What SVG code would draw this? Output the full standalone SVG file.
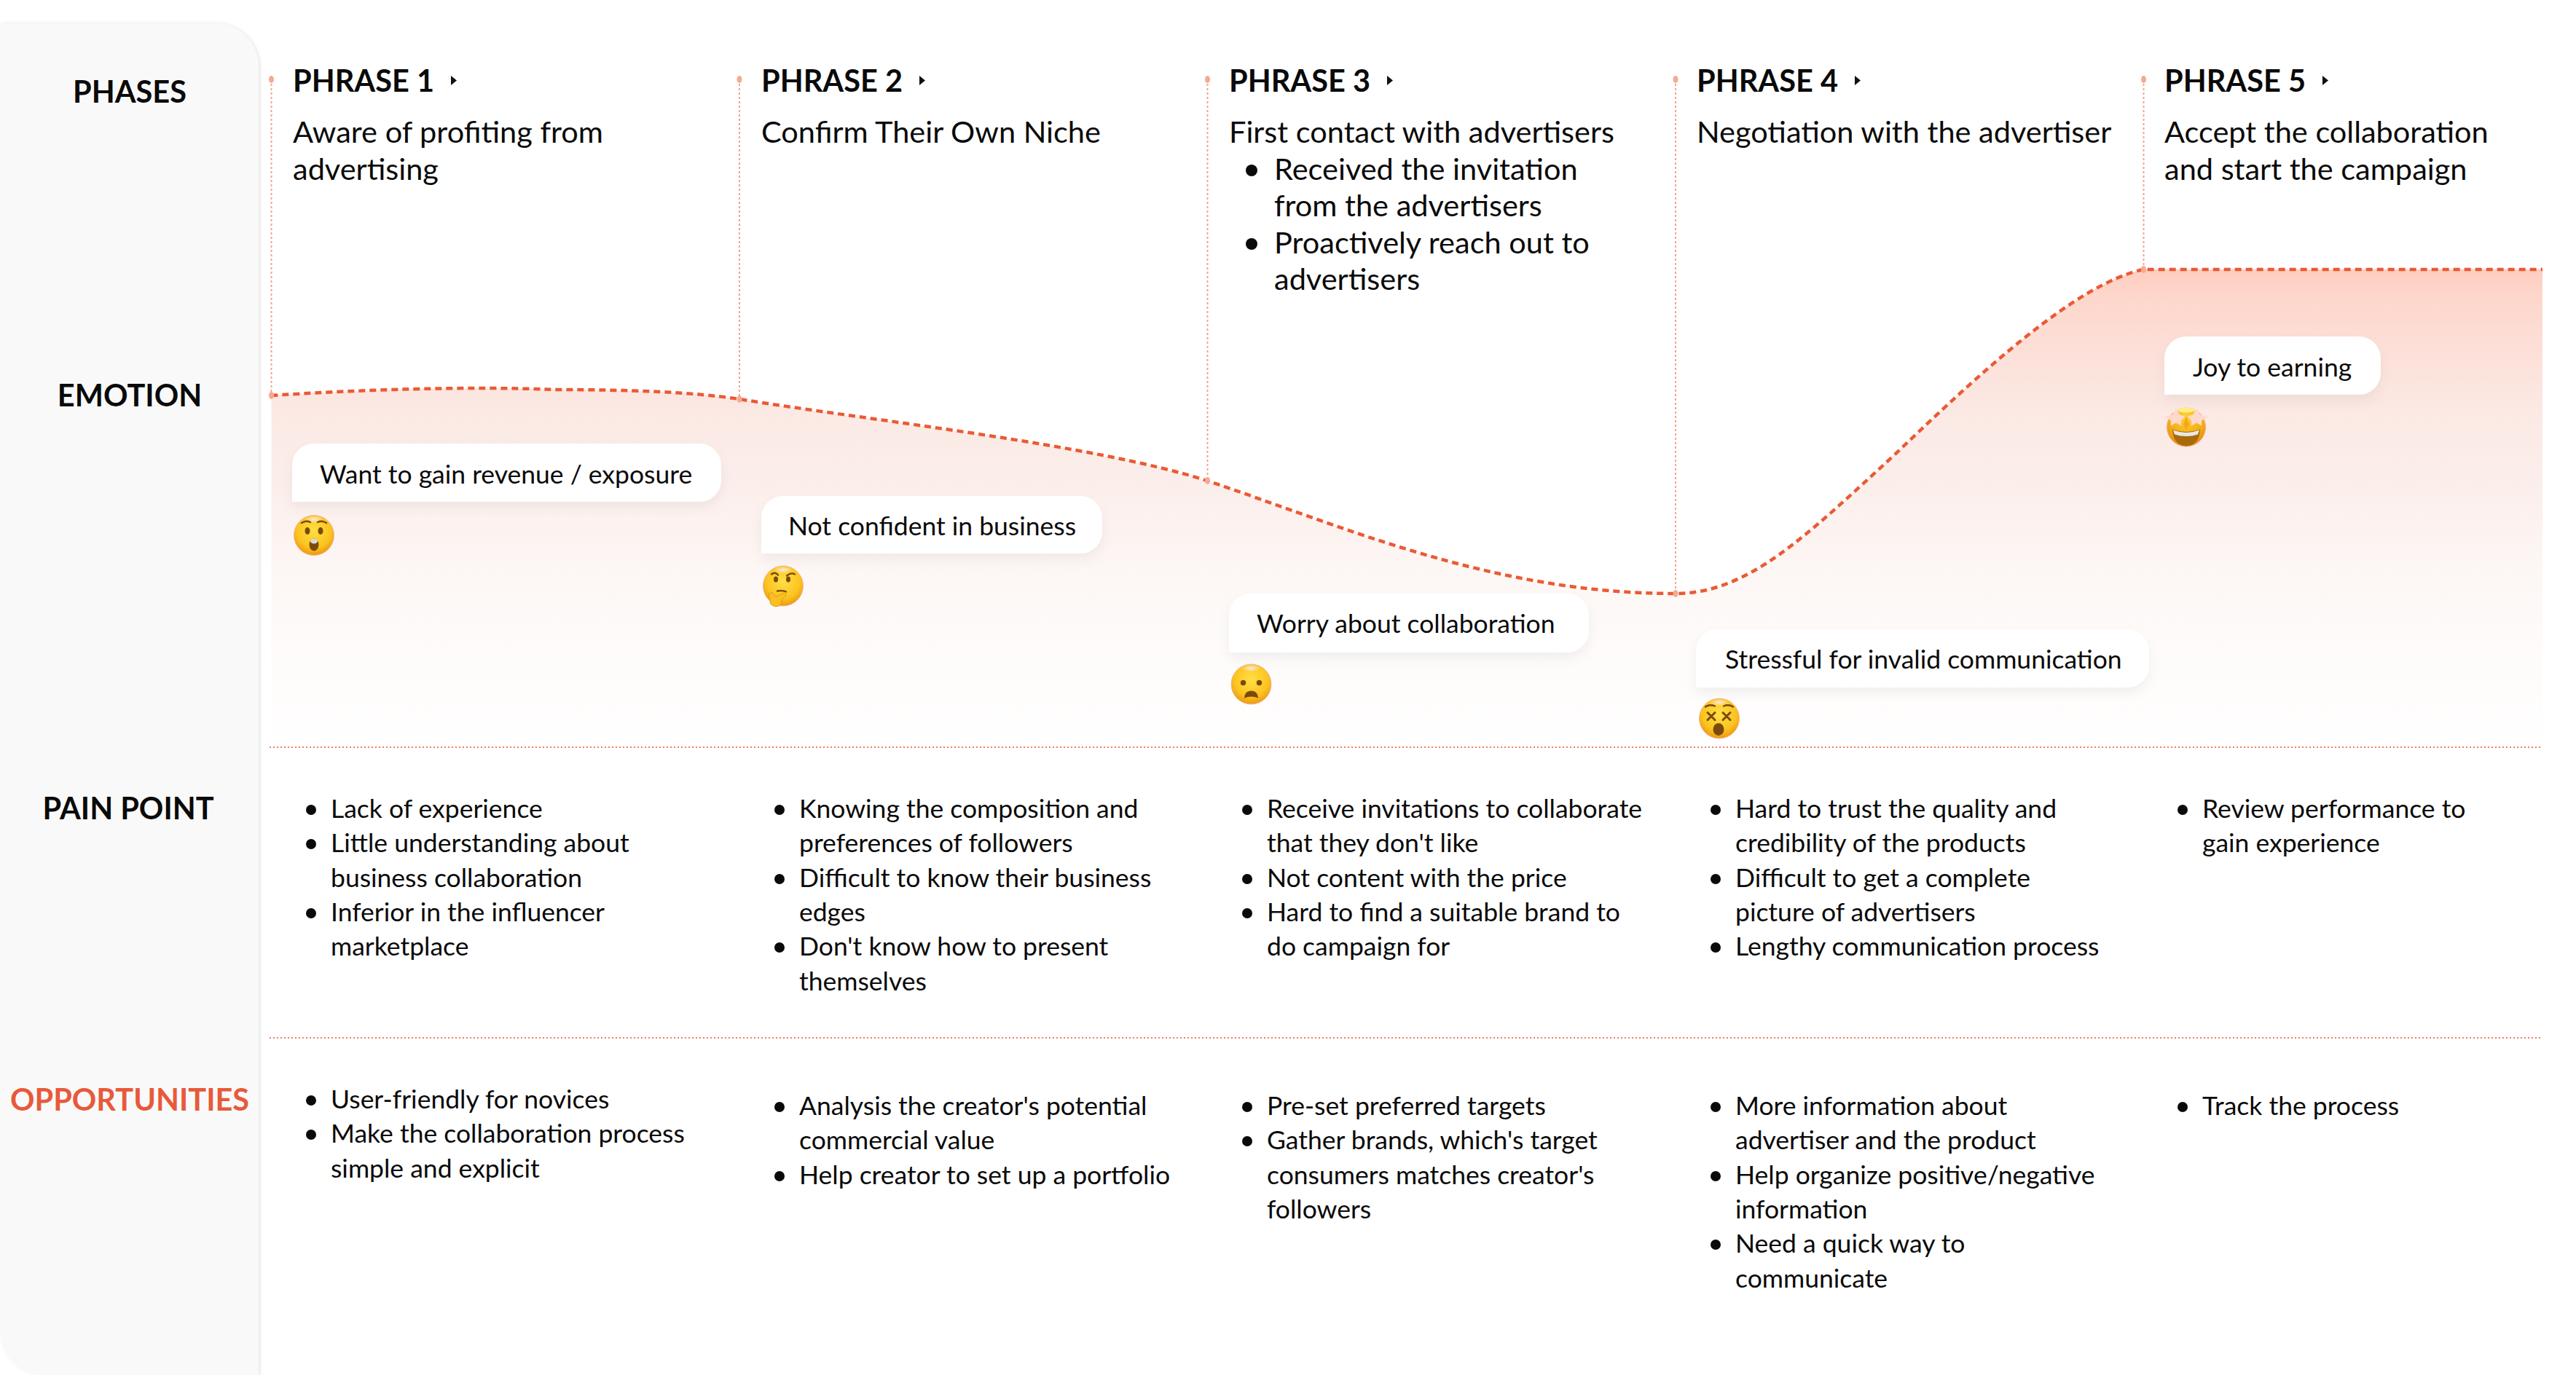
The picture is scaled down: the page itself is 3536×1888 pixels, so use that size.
<svg xmlns="http://www.w3.org/2000/svg" width="3536" height="1888" viewBox="0 0 3536 1888">
<style>
text{font-family:"Lato","Carlito","Liberation Sans",sans-serif;fill:#0a0a0a}
.lab{font-size:41.500px;font-weight:700;text-anchor:middle}
.ttl{font-size:41.500px;font-weight:700}
.des{font-size:41.500px}
.bod{font-size:35.500px}
.bub{fill:#fff;filter:url(#sh)}
.v{fill:none;stroke:#F4A48E;stroke-width:2;stroke-dasharray:3 3}
.h{fill:none;stroke:#EE7E60;stroke-width:2;stroke-dasharray:2 3}
.dot{fill:#F6A992}
.tri{fill:#111}
.bl{fill:#0a0a0a}
.face{fill:url(#fg);stroke:#F6B59A;stroke-width:1}
.hi{fill:url(#hg)}
.fe{fill:#7A4A0C}
.fs{fill:none;stroke:#7A4A0C;stroke-width:2.400;stroke-linecap:round}
</style>
<defs>
<linearGradient id="ag" gradientUnits="userSpaceOnUse" x1="0" y1="370" x2="0" y2="1026">
<stop offset="0" stop-color="#FFCDBF"/>
<stop offset=".05" stop-color="#FED6CB"/>
<stop offset=".2" stop-color="#FCE2DB"/>
<stop offset=".3" stop-color="#FBE9E4"/>
<stop offset=".44" stop-color="#FBEEEA"/>
<stop offset=".66" stop-color="#FDF8F6"/>
<stop offset="1" stop-color="#FFFFFF"/>
</linearGradient>
<radialGradient id="fg" cx=".5" cy=".38" r=".65">
<stop offset="0" stop-color="#FFDF45"/>
<stop offset=".65" stop-color="#FBC420"/>
<stop offset="1" stop-color="#E9920C"/>
</radialGradient>
<radialGradient id="sg" cx=".5" cy=".25" r=".8">
<stop offset="0" stop-color="#FFD23A"/>
<stop offset=".6" stop-color="#F2AC14"/>
<stop offset="1" stop-color="#DE860C"/>
</radialGradient>
<radialGradient id="hg">
<stop offset="0" stop-color="#FFE9E4"/>
<stop offset="1" stop-color="#FFE9E4" stop-opacity="0"/>
</radialGradient>
<filter id="sh" x="-10%" y="-20%" width="120%" height="160%">
<feDropShadow dx="0" dy="8" stdDeviation="8" flood-color="#000" flood-opacity=".05"/>
</filter>
<filter id="psh" x="-5%" y="-5%" width="110%" height="110%">
<feDropShadow dx="2" dy="0" stdDeviation="2" flood-color="#000" flood-opacity=".1"/>
</filter>
</defs>
<rect width="3536" height="1888" fill="#fff"/>
<path id="panel" d="M0 32H295A60 60 0 0 1 355 92V1888H60A60 60 0 0 1 0 1828Z" fill="#F9F9F9" filter="url(#psh)"/>
<g id="row-labels">
<text class="lab" x="178" y="141">PHASES</text>
<text class="lab" x="178" y="558">EMOTION</text>
<text class="lab" x="176" y="1125">PAIN POINT</text>
<text class="lab" x="178" y="1525" style="fill:#E8593A">OPPORTUNITIES</text>
</g>
<path id="area" fill="url(#ag)" d="M372.500 543C500 535 640 530 760 535C860 535 950 538 1015 548C1200 578 1500 610 1657 660C1850 725 2050 815 2300 815C2400 815 2480 735 2600 625C2720 510 2850 390 2942 370H3490V1026H372.500Z"/>
<g id="connectors">
<path class="v" d="M372.500 109V543M1015 109V548M1657.500 109V660M2300 109V815M2942.500 109V370"/>
<path class="h" d="M370 1026H3490M370 1425H3490"/>
<path fill="none" stroke="#EA5A34" stroke-width="4.500" stroke-dasharray="9 6" d="M372.500 543C500 535 640 530 760 535C860 535 950 538 1015 548C1200 578 1500 610 1657 660C1850 725 2050 815 2300 815C2400 815 2480 735 2600 625C2720 510 2850 390 2942 370H3490"/>
<g class="dot">
<ellipse cx="372.500" cy="109" rx="3.500" ry="5"/><ellipse cx="1015" cy="109" rx="3.500" ry="5"/><ellipse cx="1657.500" cy="109" rx="3.500" ry="5"/><ellipse cx="2300" cy="109" rx="3.500" ry="5"/><ellipse cx="2942.500" cy="109" rx="3.500" ry="5"/>
<ellipse cx="372.500" cy="543" rx="3.500" ry="5"/><ellipse cx="1015" cy="548" rx="3.500" ry="5"/><ellipse cx="1657.500" cy="660" rx="3.500" ry="5"/><ellipse cx="2300" cy="815" rx="3.500" ry="5"/><ellipse cx="2942.500" cy="370" rx="3.500" ry="5"/>
</g>
</g>

<g id="phase-1">
<text class="ttl" x="402" y="126">PHRASE 1</text><path class="tri" d="M619 104L627 110.500L619 117Z"/>
<text class="des" x="402" y="196">Aware of profiting from</text>
<text class="des" x="402" y="246.500">advertising</text>
</g>
<g id="phase-2">
<text class="ttl" x="1045" y="126">PHRASE 2</text><path class="tri" d="M1262 104L1270 110.500L1262 117Z"/>
<text class="des" x="1045" y="196">Confirm Their Own Niche</text>
</g>
<g id="phase-3">
<text class="ttl" x="1687" y="126">PHRASE 3</text><path class="tri" d="M1904 104L1912 110.500L1904 117Z"/>
<text class="des" x="1687" y="196">First contact with advertisers</text>
<circle class="bl" cx="1718" cy="234" r="8"/>
<text class="des" x="1749" y="246.500">Received the invitation</text>
<text class="des" x="1749" y="297">from the advertisers</text>
<circle class="bl" cx="1718" cy="335" r="8"/>
<text class="des" x="1749" y="347.500">Proactively reach out to</text>
<text class="des" x="1749" y="398">advertisers</text>
</g>
<g id="phase-4">
<text class="ttl" x="2329" y="126">PHRASE 4</text><path class="tri" d="M2546 104L2554 110.500L2546 117Z"/>
<text class="des" x="2329" y="196">Negotiation with the advertiser</text>
</g>
<g id="phase-5">
<text class="ttl" x="2971" y="126">PHRASE 5</text><path class="tri" d="M3188 104L3196 110.500L3188 117Z"/>
<text class="des" x="2971" y="196">Accept the collaboration</text>
<text class="des" x="2971" y="246.500">and start the campaign</text>
</g>

<g id="emotion-1">
<path class="bub" d="M401 639A30 30 0 0 1 431 609H960A30 30 0 0 1 990 639V659A30 30 0 0 1 960 689H401Z"/>
<text class="bod" x="439" y="664">Want to gain revenue / exposure</text>
<g transform="translate(431 735)"><circle class="face" r="27.500"/><ellipse class="hi" cx="0" cy="-22" rx="13" ry="5"/><path class="fs" d="M-17 -17Q-11 -21 -5 -18M5 -18Q11 -21 17 -17"/><ellipse class="fe" cx="-9" cy="-6" rx="3.500" ry="5"/><ellipse class="fe" cx="9" cy="-6" rx="3.500" ry="5"/><ellipse class="fe" cx="0" cy="13" rx="6.500" ry="8.500"/><ellipse cx="0" cy="8" rx="5" ry="3.500" fill="#DDD9D0"/></g>
</g>
<g id="emotion-2">
<path class="bub" d="M1045 711A30 30 0 0 1 1075 681H1483A30 30 0 0 1 1513 711V730A30 30 0 0 1 1483 760H1045Z"/>
<text class="bod" x="1082" y="735">Not confident in business</text>
<g transform="translate(1075 804.500)"><circle class="face" r="27.500"/><ellipse class="hi" cx="0" cy="-22" rx="13" ry="5"/><path class="fs" d="M-16 -16Q-11 -20 -7 -15M5 -14Q11 -19 16 -16"/><ellipse class="fe" cx="-10" cy="-9" rx="3" ry="4"/><ellipse class="fe" cx="7" cy="-9" rx="3" ry="4"/><path class="fs" d="M-8 7Q0 6 4 8"/><path d="M-20 11L-15 9L-10 15L0 10Q7 11 2 15L-2 19L-4 27Q-12 30 -17 25Z" fill="#FAC023" stroke="#DE9A12" stroke-width="1"/></g>
</g>
<g id="emotion-3">
<path class="bub" d="M1687 845A30 30 0 0 1 1717 815H2151A30 30 0 0 1 2181 845V866A30 30 0 0 1 2151 896H1687Z"/>
<text class="bod" x="1725" y="869">Worry about collaboration</text>
<g transform="translate(1717.500 939.500)"><circle class="face" r="27.500"/><ellipse class="hi" cx="0" cy="-22" rx="13" ry="5"/><circle class="fe" cx="-11" cy="-2" r="3.700"/><circle class="fe" cx="11" cy="-2" r="3.700"/><path class="fe" d="M-9.500 19Q-9 9 0 9Q9 9 9.500 19Q0 15 -9.500 19Z"/></g>
</g>
<g id="emotion-4">
<path class="bub" d="M2328 894A30 30 0 0 1 2358 864H2920A30 30 0 0 1 2950 894V914A30 30 0 0 1 2920 944H2328Z"/>
<text class="bod" x="2368" y="918">Stressful for invalid communication</text>
<g transform="translate(2360 986.500)"><circle class="face" r="27.500"/><ellipse class="hi" cx="0" cy="-22" rx="13" ry="5"/><path class="fs" d="M-19 -16Q-13 -20 -6 -17M6 -17Q13 -20 19 -16"/><path class="fs" style="stroke-width:3" d="M-16 -8L-6 2M-6 -8L-16 2M5 -8L15 2M15 -8L5 2"/><ellipse class="fe" cx="-1" cy="15" rx="7.500" ry="8.500"/></g>
</g>
<g id="emotion-5">
<path class="bub" d="M2971 492A30 30 0 0 1 3001 462H3238A30 30 0 0 1 3268 492V512A30 30 0 0 1 3238 542H2971Z"/>
<text class="bod" x="3010" y="517">Joy to earning</text>
<g transform="translate(3001 586.500)"><circle r="26.500" fill="url(#sg)" stroke="#F6A98C" stroke-width="1"/><path fill="#A96A0C" d="M-19 3Q0 10 19 3Q18 25 0 26Q-18 25 -19 3Z"/><path fill="#E8E8E4" d="M-18 4Q0 11 18 4L16 10Q0 15 -16 10Z"/><path d="M-14 -23Q0 -31 14 -23Q0 -17 -14 -23Z" fill="#FFEE88"/><path fill="#FFD9CC" d="M-14 -26L-9 -17L-2 -15L-7 -9L-7 -2L-14 -6L-21 -2L-21 -9L-30 -14L-19 -17Z"/><path fill="#FFD9CC" d="M14 -26L19 -17L30 -14L21 -9L21 -2L14 -6L7 -2L7 -9L2 -15L9 -17Z"/><path fill="#F2AA14" d="M0 -15L4 -4L0 4L-4 -4Z"/></g>
</g>

<g id="pain-1">
<circle class="bl" cx="427" cy="1112" r="7"/><text class="bod" x="454" y="1123">Lack of experience</text>
<circle class="bl" cx="427" cy="1159" r="7"/><text class="bod" x="454" y="1170.300">Little understanding about</text>
<text class="bod" x="454" y="1217.600">business collaboration</text>
<circle class="bl" cx="427" cy="1254" r="7"/><text class="bod" x="454" y="1265">Inferior in the influencer</text>
<text class="bod" x="454" y="1312.300">marketplace</text>
</g>
<g id="pain-2">
<circle class="bl" cx="1070" cy="1112" r="7"/><text class="bod" x="1097" y="1123">Knowing the composition and</text>
<text class="bod" x="1097" y="1170.300">preferences of followers</text>
<circle class="bl" cx="1070" cy="1207" r="7"/><text class="bod" x="1097" y="1217.600">Difficult to know their business</text>
<text class="bod" x="1097" y="1265">edges</text>
<circle class="bl" cx="1070" cy="1301" r="7"/><text class="bod" x="1097" y="1312.300">Don't know how to present</text>
<text class="bod" x="1097" y="1359.600">themselves</text>
</g>
<g id="pain-3">
<circle class="bl" cx="1712" cy="1112" r="7"/><text class="bod" x="1739" y="1123">Receive invitations to collaborate</text>
<text class="bod" x="1739" y="1170.300">that they don't like</text>
<circle class="bl" cx="1712" cy="1207" r="7"/><text class="bod" x="1739" y="1217.600">Not content with the price</text>
<circle class="bl" cx="1712" cy="1254" r="7"/><text class="bod" x="1739" y="1265">Hard to find a suitable brand to</text>
<text class="bod" x="1739" y="1312.300">do campaign for</text>
</g>
<g id="pain-4">
<circle class="bl" cx="2355" cy="1112" r="7"/><text class="bod" x="2382" y="1123">Hard to trust the quality and</text>
<text class="bod" x="2382" y="1170.300">credibility of the products</text>
<circle class="bl" cx="2355" cy="1207" r="7"/><text class="bod" x="2382" y="1217.600">Difficult to get a complete</text>
<text class="bod" x="2382" y="1265">picture of advertisers</text>
<circle class="bl" cx="2355" cy="1301" r="7"/><text class="bod" x="2382" y="1312.300">Lengthy communication process</text>
</g>
<g id="pain-5">
<circle class="bl" cx="2996" cy="1112" r="7"/><text class="bod" x="3023" y="1123">Review performance to</text>
<text class="bod" x="3023" y="1170.300">gain experience</text>
</g>

<g id="opp-1">
<circle class="bl" cx="427" cy="1511" r="7"/><text class="bod" x="454" y="1522">User-friendly for novices</text>
<circle class="bl" cx="427" cy="1558" r="7"/><text class="bod" x="454" y="1569.300">Make the collaboration process</text>
<text class="bod" x="454" y="1616.600">simple and explicit</text>
</g>
<g id="opp-2">
<circle class="bl" cx="1070" cy="1520" r="7"/><text class="bod" x="1097" y="1531">Analysis the creator's potential</text>
<text class="bod" x="1097" y="1578.300">commercial value</text>
<circle class="bl" cx="1070" cy="1615" r="7"/><text class="bod" x="1097" y="1625.600">Help creator to set up a portfolio</text>
</g>
<g id="opp-3">
<circle class="bl" cx="1712" cy="1520" r="7"/><text class="bod" x="1739" y="1531">Pre-set preferred targets</text>
<circle class="bl" cx="1712" cy="1567" r="7"/><text class="bod" x="1739" y="1578.300">Gather brands, which's target</text>
<text class="bod" x="1739" y="1625.600">consumers matches creator's</text>
<text class="bod" x="1739" y="1673">followers</text>
</g>
<g id="opp-4">
<circle class="bl" cx="2355" cy="1520" r="7"/><text class="bod" x="2382" y="1531">More information about</text>
<text class="bod" x="2382" y="1578.300">advertiser and the product</text>
<circle class="bl" cx="2355" cy="1615" r="7"/><text class="bod" x="2382" y="1625.600">Help organize positive/negative</text>
<text class="bod" x="2382" y="1673">information</text>
<circle class="bl" cx="2355" cy="1709" r="7"/><text class="bod" x="2382" y="1720.300">Need a quick way to</text>
<text class="bod" x="2382" y="1767.600">communicate</text>
</g>
<g id="opp-5">
<circle class="bl" cx="2996" cy="1520" r="7"/><text class="bod" x="3023" y="1531">Track the process</text>
</g>
</svg>
